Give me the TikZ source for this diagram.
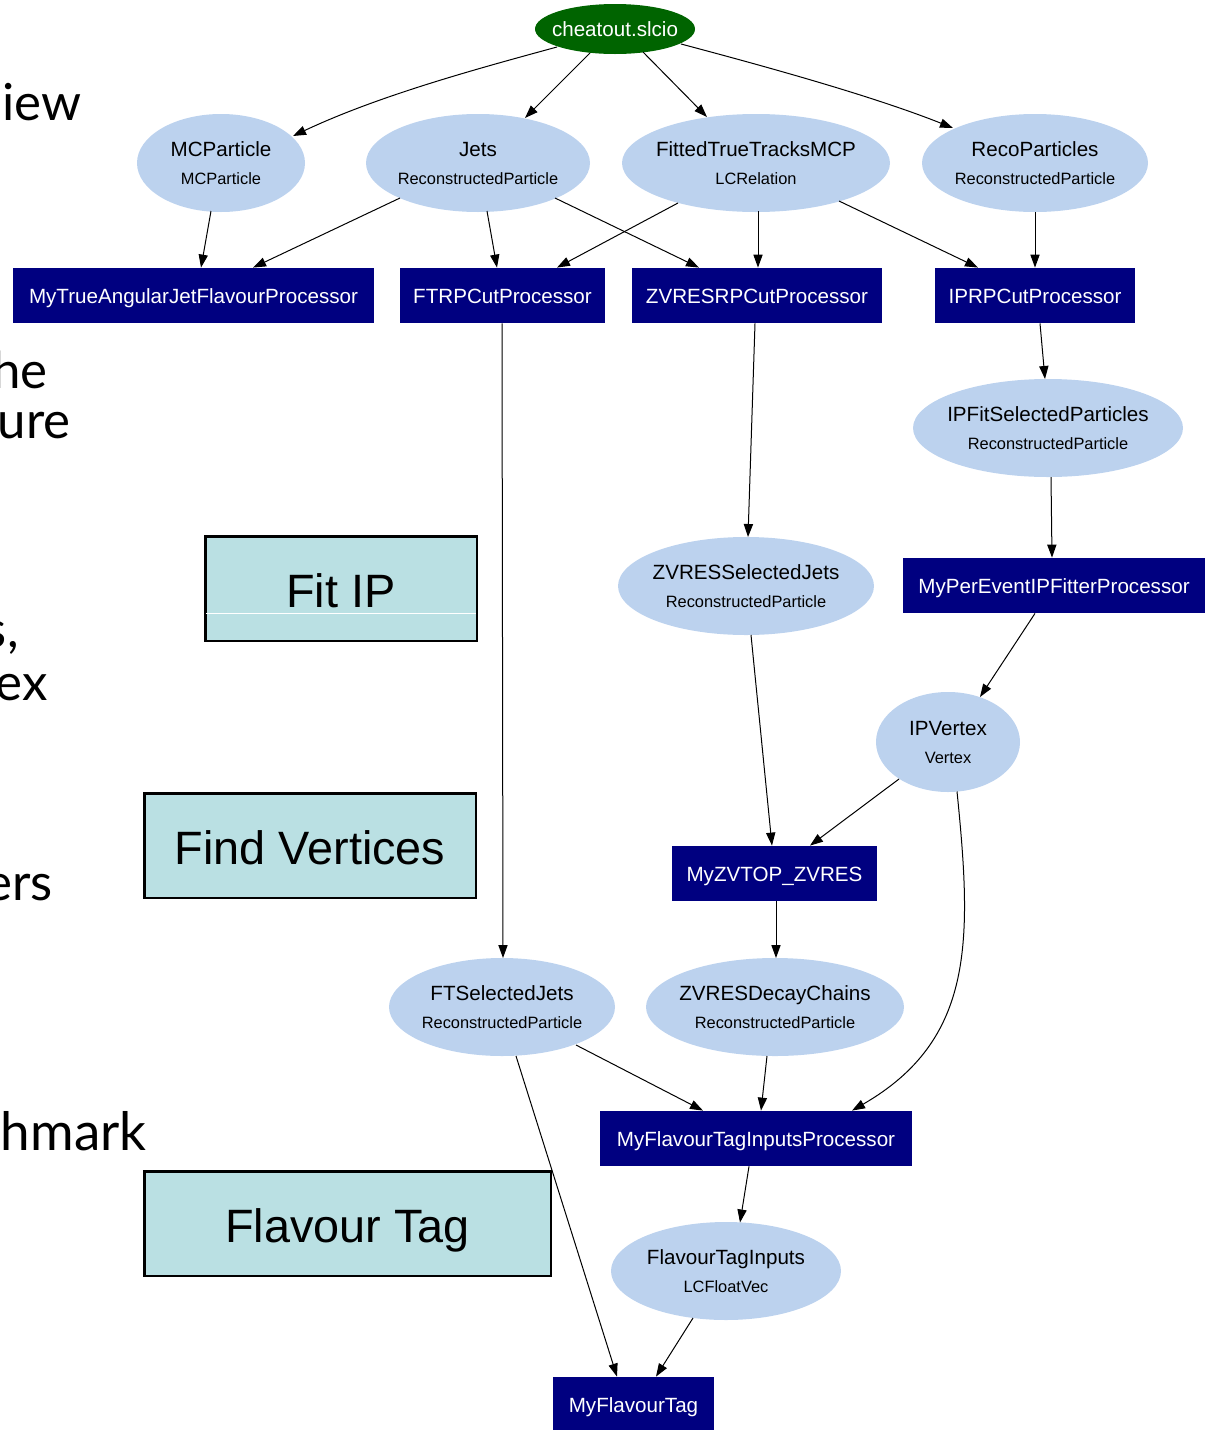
\documentclass[tikz,border=0pt]{standalone}
\usepackage{fontspec}
\setmainfont{Liberation Sans}
\newfontfamily\slidefont{Lato}
\usetikzlibrary{shapes.geometric,arrows.meta,calc}

\definecolor{gvgreen}{RGB}{0,100,0}
\definecolor{gvblue}{RGB}{188,210,238}
\definecolor{gvnavy}{RGB}{0,0,128}
\definecolor{stagefill}{RGB}{186,224,227}

\tikzset{
  srcshape/.style={ellipse, fill=gvgreen, draw=none, inner sep=0pt, minimum width=80pt, minimum height=25pt},
  srctext/.style={text=white, font=\fontsize{10.3}{12}\selectfont, anchor=base, inner sep=0pt},
  coll/.style={ellipse, fill=gvblue, draw=none, inner sep=0pt},
  titletext/.style={text=black, font=\fontsize{10.3}{12}\selectfont, anchor=base, inner sep=0pt},
  subtext/.style={text=black, font=\fontsize{8.2}{10}\selectfont, anchor=base, inner sep=0pt},
  proc/.style={rectangle, fill=gvnavy, draw=none, inner sep=0pt, minimum height=27.5pt,
    text=white, font=\fontsize{10.3}{12}\selectfont, text height=7.5pt, text depth=0pt},
  stage/.style={rectangle, fill=stagefill, draw=black, line width=1.25pt, inner sep=0pt,
    minimum height=52.25pt, font=\fontsize{23.4}{28}\selectfont, text height=18.5pt, text depth=0pt},
  slide/.style={anchor=base east, inner sep=0pt, text=black, font=\slidefont\fontsize{25.5}{30}\selectfont},
  edge/.style={draw=black, line width=0.5pt, -{Triangle[length=6.5pt,width=4.6pt]}},
}

\newcommand{\collnode}[7]{%
  \node[coll, minimum width=#4pt, minimum height=#5pt] (#1) at (#2,#3) {};
  \node[titletext] (#1-t) at ($(#1)+(0,-7)$) {#6};
  \node[subtext] (#1-s) at ($(#1)+(0,21)$) {#7};
}

\begin{document}
\begin{tikzpicture}[x=0.5pt,y=-0.5pt]
\useasboundingbox (0,0) rectangle (1211,1430);
\clip (0,0) rectangle (1211,1430);

% clipped slide text on the left
\node[slide] (w1) at (82,120) {iew};
\node[slide] (w2) at (48,388) {he};
\node[slide] (w3) at (71,438) {ure};
\node[slide] (w4) at (19,647) {s,};
\node[slide] (w5) at (48,700) {ex};
\node[slide] (w6) at (53,900) {ers};
\node[slide, font=\slidefont\fontsize{26.5}{30}\selectfont] (w7) at (147,1150) {hmark};

% source file
\node[srcshape] (src) at (615,29) {};
\node[srctext] (src-t) at ($(src)+(0,7)$) {cheatout.slcio};

% collections
\collnode{mcp}{221}{163}{84}{49}{MCParticle}{MCParticle}
\collnode{jets}{478}{163}{112}{49}{Jets}{ReconstructedParticle}
\collnode{ftt}{756}{163}{134}{49}{FittedTrueTracksMCP}{LCRelation}
\collnode{reco}{1035}{163}{113}{49}{RecoParticles}{ReconstructedParticle}
\collnode{ipfs}{1048}{428}{135}{49}{IPFitSelectedParticles}{ReconstructedParticle}
\collnode{zvsj}{746}{586}{128}{49}{ZVRESSelectedJets}{ReconstructedParticle}
\collnode{ipv}{948}{742}{72}{50}{IPVertex}{Vertex}
\collnode{ftsj}{502}{1007}{113}{49}{FTSelectedJets}{ReconstructedParticle}
\collnode{zvdc}{775}{1007}{129}{49}{ZVRESDecayChains}{ReconstructedParticle}
\collnode{fti}{726}{1271}{115}{49}{FlavourTagInputs}{LCFloatVec}

% processors
\node[proc, minimum width=180.5pt] (mtaj) at (193.5,295.5) {MyTrueAngularJetFlavourProcessor};
\node[proc, minimum width=102.5pt] (ftrp) at (502.5,295.5) {FTRPCutProcessor};
\node[proc, minimum width=125pt] (zvrp) at (757,295.5) {ZVRESRPCutProcessor};
\node[proc, minimum width=100pt] (iprp) at (1035,295.5) {IPRPCutProcessor};
\node[proc, minimum width=151pt] (mpe) at (1054,585.5) {MyPerEventIPFitterProcessor};
\node[proc, minimum width=102.5pt] (zvtop) at (774.5,873.5) {MyZVTOP\_ZVRES};
\node[proc, minimum width=156pt] (mfti) at (756,1138.5) {MyFlavourTagInputsProcessor};
\node[proc, minimum width=80.5pt] (mft) at (633.5,1404.5) {MyFlavourTag};

% edges
\draw[edge] ($(src)+(-58,18)$) .. controls ($(src)+(-135,39)$) and ($(mcp)+(159,-68)$) .. ($(mcp)+(72,-27)$);
\draw[edge] ($(src)+(-25,24)$) -- ($(jets)+(47,-45)$);
\draw[edge] ($(src)+(28,23)$) -- ($(ftt)+(-49,-46)$);
\draw[edge] ($(src)+(66,15)$) .. controls ($(src)+(145,36)$) and ($(reco)+(-165,-68)$) .. ($(reco)+(-82,-35)$);
\draw[edge] ($(mcp)+(-10,48)$) -- ($(mtaj.north)+(7.5,0)$);
\draw[edge] ($(jets)+(-78,35)$) -- ($(mtaj.north)+(59.5,0)$);
\draw[edge] ($(jets)+(9,48)$) -- ($(ftrp.north)+(-5.5,0)$);
\draw[edge] ($(jets)+(77,35)$) -- ($(zvrp.north)+(-58,0)$);
\draw[edge] ($(ftt)+(-78,40)$) -- ($(ftrp.north)+(54.5,0)$);
\draw[edge] ($(ftt)+(2,48)$) -- ($(zvrp.north)+(1,0)$);
\draw[edge] ($(ftt)+(83,38)$) -- ($(iprp.north)+(-57,0)$);
\draw[edge] (reco.south) -- (iprp.north);
\draw[edge] ($(iprp.south)+(5,0)$) -- ($(ipfs)+(-3,-49)$);
\draw[edge] ($(ipfs)+(3,49)$) -- ($(mpe.north)+(-2,0)$);
\draw[edge] ($(mpe.south)+(-19,0)$) -- ($(ipv)+(32,-45)$);
\draw[edge] ($(zvrp.south)+(-2,0)$) -- ($(zvsj)+(2,-49)$);
\draw[edge] ($(zvsj)+(5,49)$) -- ($(zvtop.north)+(-2.5,0)$);
\draw[edge] ($(ipv)+(-49,37)$) -- ($(zvtop.north)+(35.5,0)$);
\draw[edge] ($(zvtop.south)+(1.5,0)$) -- ($(zvdc)+(1,-49)$);
\draw[edge] ($(ftrp.south)+(-0.5,0)$) -- ($(ftsj)+(1,-49)$);
\draw[edge] ($(ftsj)+(74,38)$) -- ($(mfti.north)+(-53,0)$);
\draw[edge] ($(zvdc)+(-8,49)$) -- ($(mfti.north)+(5,0)$);
\draw[edge] ($(ipv)+(9,49.5)$) .. controls ($(ipv)+(24,198)$) and ($(mfti.north)+(219,-71)$) .. ($(mfti.north)+(96,0)$);
\draw[edge] ($(mfti.south)+(-7,0)$) -- ($(fti)+(14,-48.5)$);
\draw[edge] ($(ftsj)+(14,49)$) -- ($(mft.north)+(-16.5,0)$);
\draw[edge] ($(fti)+(-33,47)$) -- ($(mft.north)+(22.5,0)$);

% stage boxes
\node[stage, minimum width=135.75pt] (fitip) at (341,588.5) {Fit IP};
\draw[white, line width=0.4pt] ($(fitip.south west)+(2,-29)$) -- ($(fitip.south east)+(-2,-29)$);
\node[stage, minimum width=165.75pt] (findv) at (310,845.5) {Find Vertices};
\node[stage, minimum width=203.25pt] (ftag) at (347.5,1223.5) {Flavour Tag};
\end{tikzpicture}
\end{document}
